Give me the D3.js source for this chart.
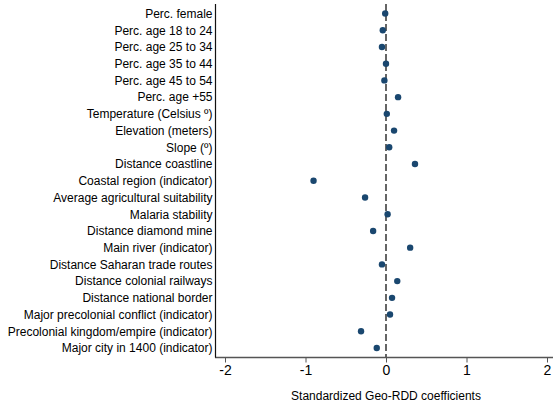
<!DOCTYPE html>
<html>
<head>
<meta charset="utf-8">
<script src="https://cdn.jsdelivr.net/npm/d3@7"></script>
<style>
  body { margin: 0; background: #fff; }
  svg { display: block; font-family: Arial, "Liberation Sans", sans-serif; }
</style>
</head>
<body>
<svg id="chart"></svg>
<script>
// covariates, top to bottom
var variables = [
    "Perc. female",
    "Perc. age 18 to 24",
    "Perc. age 25 to 34",
    "Perc. age 35 to 44",
    "Perc. age 45 to 54",
    "Perc. age +55",
    "Temperature (Celsius º)",
    "Elevation (meters)",
    "Slope (º)",
    "Distance coastline",
    "Coastal region (indicator)",
    "Average agricultural suitability",
    "Malaria stability",
    "Distance diamond mine",
    "Main river (indicator)",
    "Distance Saharan trade routes",
    "Distance colonial railways",
    "Distance national border",
    "Major precolonial conflict (indicator)",
    "Precolonial kingdom/empire (indicator)",
    "Major city in 1400 (indicator)"
];

// standardized coefficients
var coefs = [
    -0.01, -0.04, -0.05, 0.00, -0.02, 0.15, 0.01, 0.10, 0.04, 0.36,
    -0.90, -0.26, 0.02, -0.16, 0.30, -0.05, 0.14, 0.075, 0.05, -0.31, -0.115
];

var xTicks = [-2, -1, 0, 1, 2];

var width = 553, height = 408;
var margin = {top: 4, left: 215, bottom: 51};

var svg = d3.select("#chart")
    .attr("width", width)
    .attr("height", height);

var x = d3.scaleLinear().domain([-2, 2]).range([225, 547]);

var y = d3.scalePoint()
    .domain(variables)
    .range([13.5, 348])
    .padding(0);

var axisY = height - margin.bottom + 0.5;

// zero reference line
svg.append("line")
    .attr("x1", x(0)).attr("x2", x(0))
    .attr("y1", margin.top).attr("y2", axisY)
    .attr("stroke", "#333")
    .attr("stroke-width", 1.5)
    .attr("stroke-dasharray", "7,3");

// bottom axis
var xAxis = svg.append("g")
    .attr("transform", "translate(0," + axisY + ")")
    .call(d3.axisBottom(x).tickValues(xTicks).tickSize(5).tickPadding(3)
        .tickFormat(function(d) { return d < 0 ? "-" + Math.abs(d) : d; }));
xAxis.select(".domain").remove();
xAxis.selectAll(".tick line").attr("stroke", "#555");
xAxis.selectAll(".tick text")
    .attr("fill", "#000")
    .style("font-size", "14px")
    .style("font-family", "Arial, 'Liberation Sans', sans-serif");
svg.append("line")
    .attr("x1", margin.left).attr("x2", width)
    .attr("y1", axisY).attr("y2", axisY)
    .attr("stroke", "#555")
    .attr("stroke-width", 1.5);

// left axis with variable names
var yAxis = svg.append("g")
    .attr("transform", "translate(" + (margin.left + 0.5) + ",0)")
    .call(d3.axisLeft(y).tickSize(0).tickPadding(3));
yAxis.select(".domain").remove();
yAxis.selectAll(".tick text")
    .attr("fill", "#000")
    .style("font-size", "12px")
    .style("font-family", "Arial, 'Liberation Sans', sans-serif");
svg.append("line")
    .attr("x1", margin.left + 0.5).attr("x2", margin.left + 0.5)
    .attr("y1", margin.top).attr("y2", axisY)
    .attr("stroke", "#111")
    .attr("stroke-width", 1.2);

// coefficient markers
svg.selectAll("circle.coef")
    .data(variables)
    .enter().append("circle")
    .attr("class", "coef")
    .attr("cx", function(d, i) { return x(coefs[i]); })
    .attr("cy", function(d) { return y(d); })
    .attr("r", 3.2)
    .attr("fill", "#1a476f");

// x axis title
svg.append("text")
    .attr("x", x(0))
    .attr("y", 400)
    .attr("text-anchor", "middle")
    .style("font-size", "12px")
    .text("Standardized Geo-RDD coefficients");
</script>
</body>
</html>
